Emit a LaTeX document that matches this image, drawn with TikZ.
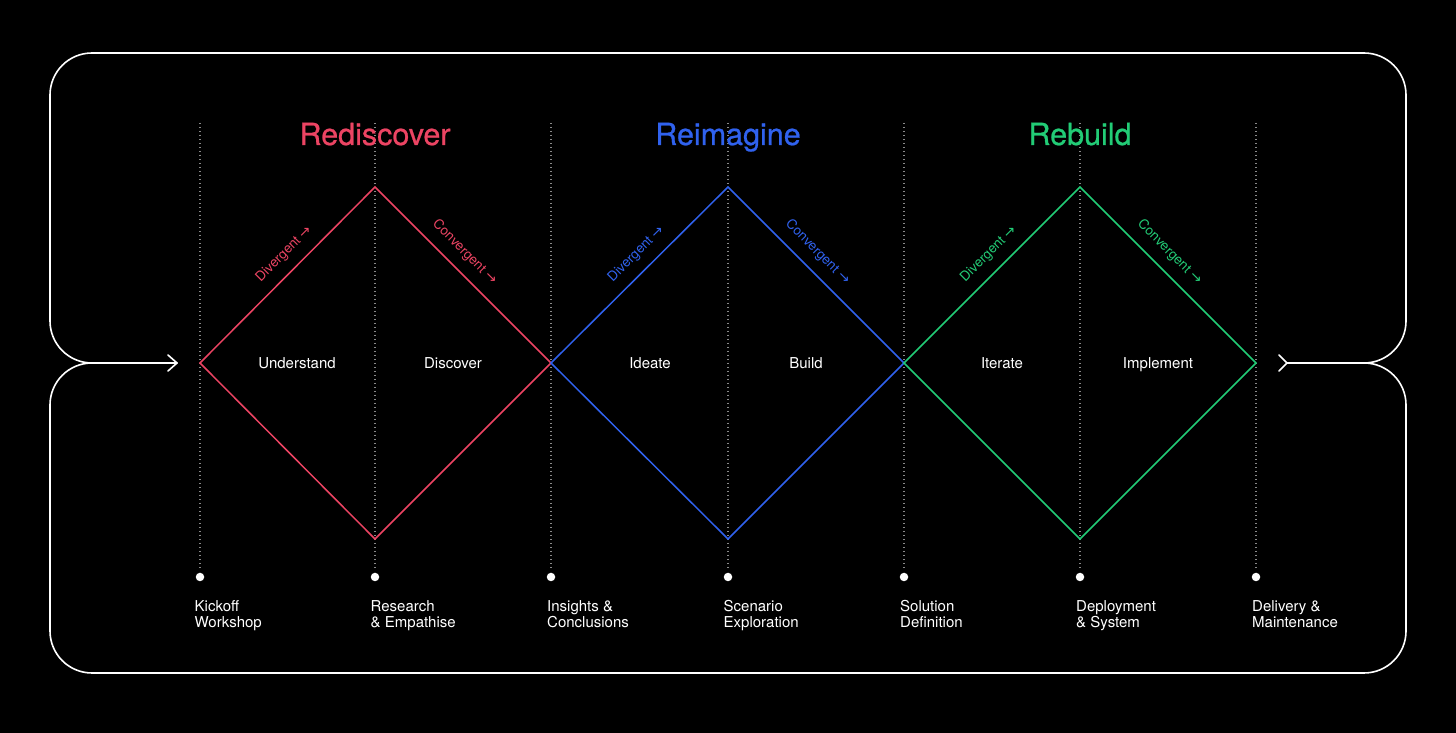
\documentclass[tikz,border=0pt]{standalone}
\usepackage{fontspec}
\setmainfont{TeX Gyre Heros}
\newfontfamily\arrowfont{DejaVu Sans}
\newfontfamily\titlefont[FakeBold=0.7]{TeX Gyre Heros}
\usetikzlibrary{arrows.meta}
\definecolor{cred}{HTML}{EC4463}
\definecolor{cblue}{HTML}{3062EE}
\definecolor{cgreen}{HTML}{22CC76}
\definecolor{dotgray}{HTML}{8A8A8A}
\newcommand{\rarr}{{\arrowfont\fontsize{14}{14}\selectfont →}}
\begin{document}
\begin{tikzpicture}[x=1pt,y=1pt,
  outline/.style={draw=white, line width=1.6pt, line cap=round, line join=round},
  dotline/.style={draw=dotgray, line width=1.4pt, dash pattern=on 1.3pt off 2.7pt},
  diam/.style={line width=1.5pt, line join=miter},
  titletext/.style={font=\titlefont\fontsize{30.5}{34}\selectfont, inner sep=0pt, anchor=base},
  phase/.style={text=white, font=\fontsize{15}{18}\selectfont, inner sep=0pt, anchor=base},
  slopetext/.style={sloped, font=\fontsize{13.5}{15}\selectfont, inner sep=0pt},
  mile/.style={text=white, align=left, anchor=north west, font=\fontsize{15}{16}\selectfont, inner sep=0pt},
  milestone/.style={circle, fill=white, minimum size=8.5pt, inner sep=0pt},
]
\fill[black] (0,0) rectangle (1456,733);
\useasboundingbox (0,0) rectangle (1456,733);

% outline
\coordinate (jl) at (92,370);
\coordinate (jr) at (1364,370);
\coordinate (ain) at (177,370);
\coordinate (aout) at (1287,370);
\draw[outline] (jl) arc[start angle=-90, end angle=-180, radius=42] -- (50,638)
  arc[start angle=180, end angle=90, radius=42] -- (1364,680)
  arc[start angle=90, end angle=0, radius=42] -- (1406,412)
  arc[start angle=0, end angle=-90, radius=42];
\draw[outline] (jl) arc[start angle=90, end angle=180, radius=42] -- (50,102)
  arc[start angle=180, end angle=270, radius=42] -- (1364,60)
  arc[start angle=270, end angle=360, radius=42] -- (1406,328)
  arc[start angle=0, end angle=90, radius=42];
\draw[outline] (jl) -- (ain);
\draw[outline] (168,378) -- (ain) -- (168,362);
\draw[outline] (aout) -- (jr);
\draw[outline] (1279,378) -- (aout) -- (1279,362);

% dotted guides and milestones
\foreach \i/\x in {0/200,1/375,2/551,3/728,4/904,5/1080,6/1256}{
  \coordinate (t\i) at (\x,610);
  \coordinate (b\i) at (\x,163);
  \coordinate (m\i) at (\x,370);
  \draw[dotline] (t\i) -- (b\i);
  \node[milestone] (d\i) at (\x,156) {};
}

% diamonds
\coordinate (T1) at (375,546); \coordinate (B1) at (375,194);
\coordinate (T3) at (728,546); \coordinate (B3) at (728,194);
\coordinate (T5) at (1080,546); \coordinate (B5) at (1080,194);

\draw[diam, cred] (m0) -- node[slopetext, pos=0.55, above=10pt] {Divergent \rarr} (T1)
  -- node[slopetext, pos=0.44, above=10pt] {Convergent \rarr} (m2) -- (B1) -- cycle;
\draw[diam, cblue] (m2) -- node[slopetext, pos=0.55, above=10pt] {Divergent \rarr} (T3)
  -- node[slopetext, pos=0.44, above=10pt] {Convergent \rarr} (m4) -- (B3) -- cycle;
\draw[diam, cgreen] (m4) -- node[slopetext, pos=0.55, above=10pt] {Divergent \rarr} (T5)
  -- node[slopetext, pos=0.44, above=10pt] {Convergent \rarr} (m6) -- (B5) -- cycle;

% titles
\node[titletext, text=cred] (ttl1) at (375,588) {Rediscover};
\node[titletext, text=cblue] (ttl2) at (728,588) {Reimagine};
\node[titletext, text=cgreen] (ttl3) at (1080,588) {Rebuild};

% phase labels
\node[phase] (p1) at (297,364.5) {Understand};
\node[phase] (p2) at (453,364.5) {Discover};
\node[phase] (p3) at (650,364.5) {Ideate};
\node[phase] (p4) at (806,364.5) {Build};
\node[phase] (p5) at (1002,364.5) {Iterate};
\node[phase] (p6) at (1158,364.5) {Implement};

% milestone labels
\node[mile] (l0) at (194.5,133) {Kickoff\\Workshop};
\node[mile] (l1) at (370.5,133) {Research\\\& Empathise};
\node[mile] (l2) at (547,133) {Insights \&\\Conclusions};
\node[mile] (l3) at (723.5,133) {Scenario\\Exploration};
\node[mile] (l4) at (900,133) {Solution\\Definition};
\node[mile] (l5) at (1076,133) {Deployment\\\& System};
\node[mile] (l6) at (1252,133) {Delivery \&\\Maintenance};
\end{tikzpicture}
\end{document}
